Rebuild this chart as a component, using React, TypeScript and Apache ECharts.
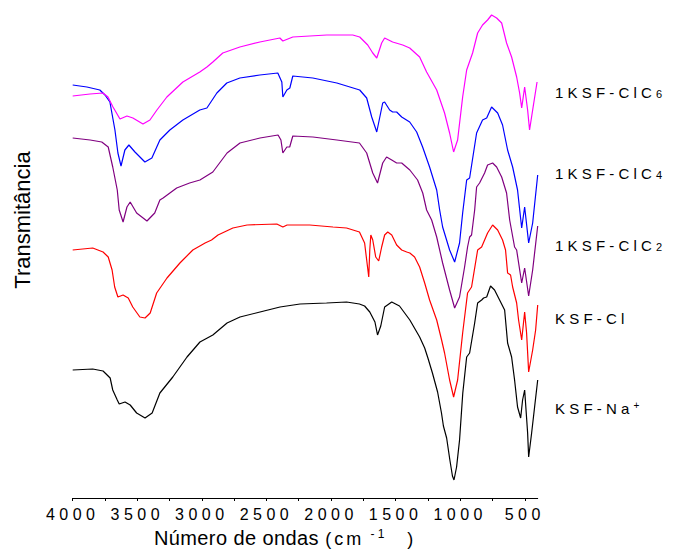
import React, { useEffect, useRef } from "react";
import * as echarts from "echarts";

// Wavenumber (cm-1) / transmittance (arbitrary, offset units)
const ksfNa: [number, number][] = [
  [4000, 128], [3845, 129], [3765, 127], [3710, 120], [3690, 108], [3655, 98], [3640, 94],
  [3595, 96], [3555, 93], [3505, 85], [3440, 80], [3385, 85], [3325, 105], [3225, 121],
  [3115, 141], [3015, 156], [2915, 163], [2805, 175], [2705, 181], [2550, 186], [2395, 191],
  [2240, 194], [2035, 195], [1880, 196], [1780, 194], [1740, 192], [1700, 186], [1660, 176],
  [1640, 163], [1615, 172], [1585, 191], [1530, 196], [1470, 192], [1390, 178], [1314, 161],
  [1275, 150], [1250, 140], [1215, 125], [1175, 106], [1145, 85], [1130, 72], [1105, 60],
  [1080, 38], [1060, 22], [1048, 18], [1028, 31], [1005, 58], [980, 105], [950, 141],
  [927, 145], [888, 175], [865, 195], [834, 198], [819, 200], [795, 201], [765, 212],
  [734, 208], [695, 198], [656, 188], [633, 155], [602, 141], [579, 118], [556, 91],
  [532, 80], [517, 98], [501, 108], [478, 65], [470, 41], [447, 65], [424, 91], [400, 118],
];

const ksfCl: [number, number][] = [
  [4000, 248], [3845, 250], [3765, 246], [3725, 241], [3695, 228], [3675, 211], [3650, 201],
  [3610, 203], [3570, 200], [3535, 191], [3480, 181], [3440, 180], [3400, 185], [3350, 205],
  [3270, 220], [3170, 235], [3070, 248], [2975, 255], [2925, 258], [2875, 263], [2760, 270],
  [2650, 273], [2420, 274], [2373, 271], [2340, 273], [2165, 273], [1985, 271], [1880, 270],
  [1780, 266], [1740, 255], [1724, 238], [1708, 221], [1700, 248], [1692, 263], [1677, 258],
  [1654, 241], [1631, 237], [1608, 251], [1585, 263], [1561, 266], [1530, 263], [1492, 253],
  [1453, 248], [1414, 246], [1390, 245], [1353, 241], [1314, 231], [1275, 215], [1237, 198],
  [1182, 178], [1144, 158], [1121, 145], [1082, 118], [1051, 101], [1020, 118], [981, 165],
  [943, 205], [912, 211], [865, 248], [834, 251], [788, 265], [749, 273], [710, 268],
  [672, 258], [649, 248], [633, 225], [610, 223], [594, 211], [563, 195], [548, 178],
  [524, 158], [501, 186], [486, 165], [470, 126], [439, 148], [416, 168], [400, 193],
];

const ksfClC2: [number, number][] = [
  [4000, 360], [3865, 358], [3775, 356], [3725, 351], [3690, 331], [3655, 308], [3640, 288],
  [3610, 276], [3580, 291], [3555, 296], [3505, 285], [3425, 277], [3365, 285], [3325, 298],
  [3300, 300], [3195, 310], [3095, 315], [3015, 318], [2915, 326], [2805, 345], [2705, 355],
  [2550, 360], [2410, 363], [2388, 358], [2373, 345], [2342, 351], [2320, 351], [2296, 362],
  [2140, 361], [1955, 358], [1780, 355], [1724, 345], [1677, 325], [1640, 315], [1600, 335],
  [1570, 341], [1530, 338], [1492, 335], [1453, 335], [1390, 328], [1330, 318], [1290, 305],
  [1260, 288], [1221, 278], [1182, 261], [1136, 235], [1082, 208], [1043, 190], [1005, 201],
  [966, 231], [943, 251], [927, 261], [912, 263], [888, 288], [873, 311], [850, 315],
  [811, 325], [788, 333], [749, 335], [718, 331], [679, 321], [641, 305], [617, 278],
  [579, 251], [563, 248], [524, 215], [501, 230], [470, 202], [439, 228], [400, 272],
];

const ksfClC4: [number, number][] = [
  [4000, 413], [3890, 411], [3790, 408], [3750, 403], [3712, 396], [3673, 368], [3650, 345],
  [3626, 332], [3596, 348], [3565, 353], [3518, 346], [3441, 336], [3387, 340], [3325, 358],
  [3248, 368], [3147, 378], [3016, 388], [2961, 390], [2884, 405], [2807, 415], [2706, 420],
  [2551, 423], [2412, 425], [2381, 416], [2373, 401], [2342, 408], [2319, 410], [2296, 422],
  [2141, 420], [1955, 415], [1778, 408], [1724, 400], [1685, 381], [1646, 366], [1600, 395],
  [1585, 396], [1546, 388], [1523, 386], [1492, 386], [1453, 381], [1391, 376], [1337, 366],
  [1291, 351], [1237, 331], [1182, 308], [1159, 288], [1136, 271], [1082, 248], [1043, 236],
  [1005, 255], [981, 285], [950, 318], [927, 320], [873, 365], [827, 378], [795, 380],
  [757, 391], [710, 385], [672, 373], [633, 348], [594, 331], [556, 308], [524, 270],
  [501, 291], [470, 255], [439, 275], [400, 323],
];

const ksfClC6: [number, number][] = [
  [4000, 402], [3866, 404], [3766, 405], [3727, 401], [3688, 391], [3634, 379], [3580, 382],
  [3534, 380], [3456, 374], [3402, 378], [3348, 388], [3271, 401], [3147, 416], [3016, 426],
  [2961, 431], [2915, 436], [2838, 445], [2706, 451], [2551, 456], [2396, 460], [2373, 457],
  [2296, 461], [2033, 463], [1832, 463], [1778, 461], [1716, 453], [1677, 445], [1646, 440],
  [1608, 455], [1585, 460], [1523, 456], [1445, 453], [1391, 450], [1314, 441], [1260, 426],
  [1182, 408], [1121, 385], [1082, 365], [1051, 346], [1020, 358], [981, 401], [950, 428],
  [904, 445], [865, 465], [827, 473], [788, 478], [757, 483], [718, 480], [679, 475],
  [641, 455], [602, 441], [563, 421], [540, 405], [524, 390], [501, 411], [478, 388],
  [463, 368], [439, 388], [405, 416],
];

const spectra = [ksfNa, ksfCl, ksfClC2, ksfClC4, ksfClC6];
const seriesNames = ["KSF-Na+", "KSF-Cl", "1KSF-ClC2", "1KSF-ClC4", "1KSF-ClC6"];
const labelMain = ["KSF-Na", "KSF-Cl", "1KSF-ClC", "1KSF-ClC", "1KSF-ClC"];
const labelSub = ["", "", "2", "4", "6"];
const labelSup = ["+", "", "", "", ""];

const xTickValues = [500, 750, 1000, 1250, 1500, 1750, 2000, 2250, 2500, 2750, 3000, 3250, 3500, 3750, 4000];
const xLabelValues = [500, 1000, 1500, 2000, 2500, 3000, 3500, 4000];

const colors = ["#000000", "#ff0000", "#800080", "#0000ff", "#ff00ff"];
const labelY = [408, 318, 245, 173, 92];

const SPACED = "Liberation Sans, SpacedWide, sans-serif";
const MID_FONT = "Liberation Sans, SpacedMid, sans-serif";
const NAME_FONT = "Liberation Sans, SpacedName, sans-serif";
const LS = 4.2;

function applySpacing(root: HTMLElement | null) {
  if (!root) return;
  root.querySelectorAll("text").forEach((t) => {
    const el = t as SVGTextElement;
    const attr = el.getAttribute("style") || "";
    const ff = attr + " " + (getComputedStyle(el).fontFamily || "");
    if (ff.indexOf("SpacedWide") >= 0) el.style.letterSpacing = "0.28em";
    else if (ff.indexOf("SpacedMid") >= 0) el.style.letterSpacing = "3px";
    else if (ff.indexOf("SpacedName") >= 0) el.style.letterSpacing = "0.4px";
  });
}

export default function App() {
  const ref = useRef<HTMLDivElement>(null);
  useEffect(() => {
    if (!ref.current) return;
    const chart = echarts.init(ref.current, undefined, { renderer: "svg" });
    const graphic = labelMain.map((m, i) => {
      let text = `{m|${m}}`;
      if (labelSub[i]) text += `{s|${labelSub[i]}}`;
      if (labelSup[i]) text += `{p|${labelSup[i]}}`;
      return {
        type: "text",
        x: 555,
        y: labelY[i],
        style: {
          text,
          verticalAlign: "middle",
          align: "left",
          rich: {
            m: { fontSize: 15, fontFamily: SPACED, fill: "#000", verticalAlign: "bottom", padding: [0, m.length * LS, 0, 0] },
            s: { fontSize: 11, fontFamily: SPACED, fill: "#000", verticalAlign: "bottom" },
            p: { fontSize: 10, fontFamily: SPACED, fill: "#000", verticalAlign: "top" },
          },
        },
      };
    });
    chart.on("finished", () => applySpacing(ref.current));
    chart.setOption({
      animation: false,
      backgroundColor: "#ffffff",
      grid: { left: 72.7, right: 135.3, top: 10, bottom: 52, containLabel: false, outerBoundsMode: "none" },
      xAxis: {
        type: "value",
        min: 400,
        max: 4000,
        inverse: true,
        name: "{a|Número de ondas}{b|(cm}{c|-1}{d|)}",
        nameLocation: "middle",
        nameGap: 30,
        nameTextStyle: {
          padding: [0, 40, 0, 0],
          rich: {
            a: { fontSize: 20, fontFamily: NAME_FONT, color: "#000", verticalAlign: "bottom", padding: [0, 14, 0, 0] },
            b: { fontSize: 18, fontFamily: MID_FONT, color: "#000", verticalAlign: "bottom", padding: [0, 14, 0, 0] },
            c: { fontSize: 12, fontFamily: SPACED, color: "#000", verticalAlign: "top", padding: [0, 23, 0, 0] },
            d: { fontSize: 18, fontFamily: NAME_FONT, color: "#000", verticalAlign: "bottom" },
          },
        },
        axisLine: { show: true, onZero: false, lineStyle: { color: "#000", width: 1 } },
        axisTick: { show: true, inside: false, length: 3, customValues: xTickValues, lineStyle: { color: "#000" } },
        axisLabel: {
          customValues: xLabelValues,
          formatter: (v: number) => String(v),
          fontSize: 16,
          fontFamily: SPACED,
          color: "#000",
          margin: 8,
        },
        splitLine: { show: false },
      },
      yAxis: {
        type: "value",
        min: 0,
        max: 488,
        name: "Transmitância",
        nameLocation: "middle",
        nameGap: 39,
        nameTextStyle: { fontSize: 22, fontFamily: "Arial, sans-serif", color: "#000", padding: [0, 0, 0, 68] },
        axisLine: { show: false },
        axisTick: { show: false },
        axisLabel: { show: false },
        splitLine: { show: false },
      },
      series: spectra.map((d, i) => ({
        name: seriesNames[i],
        type: "line",
        data: d,
        showSymbol: false,
        symbol: "none",
        lineStyle: { color: colors[i], width: 1.2 },
        itemStyle: { color: colors[i] },
        z: 2 + i,
      })),
      graphic,
    });
    applySpacing(ref.current);
    const raf = requestAnimationFrame(() => applySpacing(ref.current));
    const tm = setTimeout(() => applySpacing(ref.current), 50);
    return () => {
      cancelAnimationFrame(raf);
      clearTimeout(tm);
      chart.dispose();
    };
  }, []);
  return (
    <div ref={ref} style={{ position: "fixed", left: 0, top: 0, width: 673, height: 550, background: "#fff" }} />
  );
}
